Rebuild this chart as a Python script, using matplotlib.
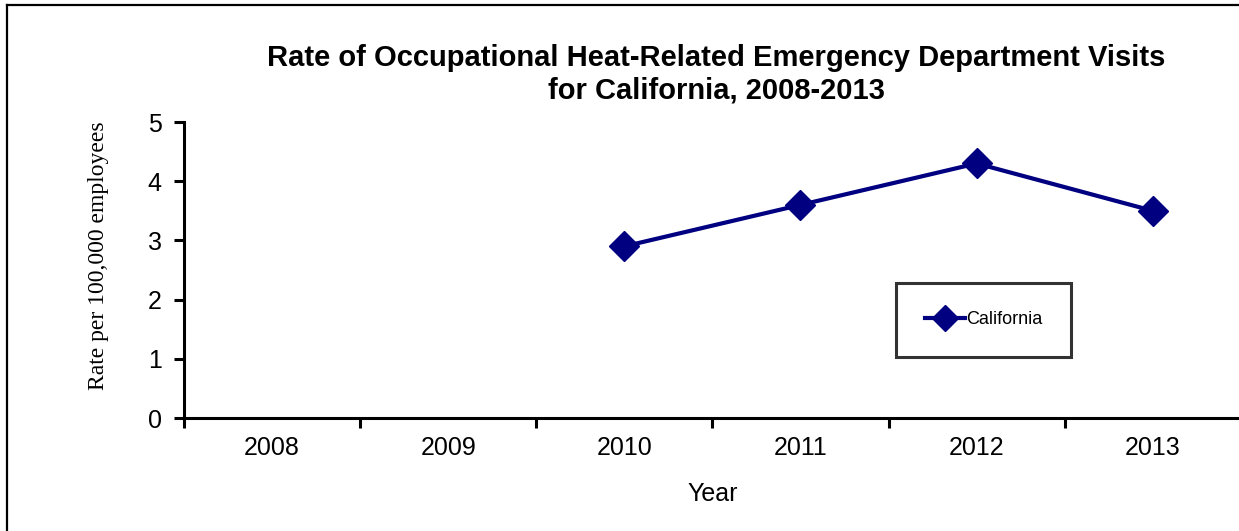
import matplotlib
matplotlib.use("Agg")
import matplotlib.pyplot as plt
from matplotlib.lines import Line2D
import numpy as np

# data
years = ["2008", "2009", "2010", "2011", "2012", "2013"]
rates = [np.nan, np.nan, 2.9, 3.6, 4.3, 3.5]
y_ticks = [0, 1, 2, 3, 4, 5]

title = "Rate of Occupational Heat-Related Emergency Department Visits\nfor California, 2008-2013"
navy = "#000080"

plt.rcParams['font.family'] = ['Liberation Sans', 'DejaVu Sans']

fig = plt.figure(figsize=(12.39, 5.31), dpi=100)
ax = fig.add_axes([0.1485, 0.2128, 0.853, 0.5574])

x = np.arange(len(years)) + 0.5
ax.plot(x, rates, color=navy, lw=3, marker="D", markersize=15,
        markerfacecolor=navy, markeredgecolor=navy, label="California")

ax.set_xlim(0, len(years))
ax.set_ylim(0, 5)
ax.set_yticks(y_ticks)
ax.set_yticklabels([str(t) for t in y_ticks], fontsize=18)

# category boundaries get the tick marks, labels sit in between
ax.set_xticks(np.arange(len(years) + 1))
ax.set_xticklabels([])
ax.set_xticks(x, minor=True)
ax.set_xticklabels(years, minor=True, fontsize=18)
ax.tick_params(axis="x", which="minor", length=0, pad=13)
ax.tick_params(axis="x", which="major", length=7, width=2.2, direction="out")
ax.tick_params(axis="y", length=7, width=2.2, direction="out", pad=9)

for s in ["top", "right"]:
    ax.spines[s].set_visible(False)
for s in ["left", "bottom"]:
    ax.spines[s].set_linewidth(2.2)

ax.set_xlabel("Year", fontsize=18, labelpad=16)
ax.set_ylabel("Rate per 100,000 employees", fontsize=17, family="Liberation Serif")
ax.yaxis.set_label_coords(-0.071, 0.55)
fig.suptitle(title, fontsize=21, fontweight="bold", x=0.578, y=0.917, linespacing=1.2)

leg = ax.legend(loc="center", bbox_to_anchor=(0.7938, 0.3974), bbox_transform=fig.transFigure,
                fancybox=False, edgecolor="black", fontsize=13, borderpad=1.6,
                handlelength=2.2, handletextpad=0.05, markerscale=0.9)
leg.get_frame().set_linewidth(2.2)

# outer chart border (right and bottom fall outside the image)
fig.add_artist(Line2D([0.0057, 0.0057], [0, 0.9906], color="black", lw=1.6))
fig.add_artist(Line2D([0.0057, 1], [0.9906, 0.9906], color="black", lw=1.6))

fig.savefig("out.png", dpi=100)
